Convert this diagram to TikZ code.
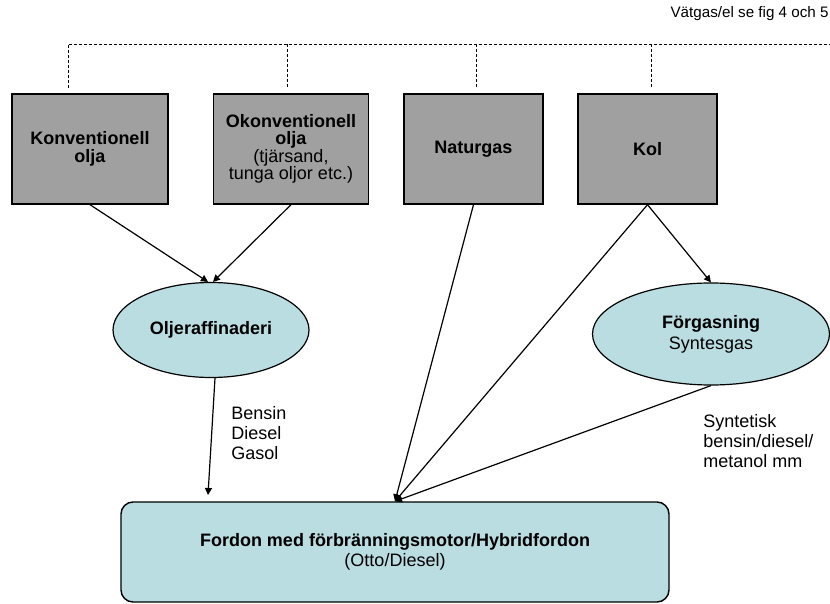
\documentclass[tikz,border=0pt]{standalone}
\usepackage{fontspec}
\setmainfont{Liberation Sans}
\usetikzlibrary{shapes.geometric,arrows.meta}
\definecolor{boxgray}{RGB}{160,160,160}
\definecolor{paleblue}{RGB}{186,221,225}
\tikzset{
  source/.style={draw, line width=0.7pt, fill=boxgray, minimum height=55pt, inner sep=1pt, align=center, font=\fontsize{9}{8.75}\selectfont},
  process/.style={ellipse, draw, line width=0.6pt, fill=paleblue, inner sep=0pt, align=center, font=\fontsize{9}{10.5}\selectfont},
  flow/.style={-{Triangle[length=3.5pt,width=3.5pt]}, line width=0.6pt},
  plain/.style={line width=0.6pt},
  lbl/.style={align=left, inner sep=0pt, font=\fontsize{9}{10}\selectfont},
  feed/.style={dash pattern=on 1.5pt off 1pt, line width=0.4pt}
}

\begin{document}
\begin{tikzpicture}[x=0.5pt, y=-0.5pt]
\useasboundingbox (0,0) rectangle (830,604);

\node[anchor=east, inner sep=0pt, font=\fontsize{7.6}{9}\selectfont] (ref) at (829,14) {Vätgas/el se fig 4 och 5};

\draw[feed] (68,88) |- (830,44);
\foreach \x in {287,476,651}
  {\draw[feed] (\x,44) -- (\x,88);}

\node[source, minimum width=78pt] (konv) at (90,149) {\textbf{Konventionell}\\\textbf{olja}};
\node[source, minimum width=77.5pt] (okonv) at (291,149) {\textbf{Okonventionell}\\\textbf{olja}\\(tjärsand,\\tunga oljor etc.)};
\node[source, minimum width=69.5pt] (natur) at (473.5,149) {\textbf{Naturgas}};
\node[source, minimum width=69.5pt] (kol) at (647.5,149) {\textbf{Kol}};

\node[process, minimum width=98pt, minimum height=47.5pt] (raff) at (211,330) {\textbf{Oljeraffinaderi}};
\node[process, minimum width=118.5pt, minimum height=51pt] (forg) at (711,334) {\textbf{Förgasning}\\Syntesgas};

\node[draw, line width=0.7pt, rounded corners=6pt, fill=paleblue, minimum width=274pt, minimum height=50pt, align=center, font=\fontsize{9}{10}\selectfont] (fordon) at (395,552) {\textbf{Fordon med förbränningsmotor/Hybridfordon}\\(Otto/Diesel)};

\coordinate (gasend) at (208,495);

\draw[flow] (konv.south) -- ([xshift=-1.5pt]raff.north);
\draw[flow] (okonv.south) -- ([xshift=1pt]raff.north);
\draw[flow] ([xshift=2pt]raff.south) -- (gasend);
\draw[flow] (natur.south) -- (fordon.north);
\draw[flow] (kol.south) -- (fordon.north);
\draw[flow] (kol.south) -- (forg.north);
\draw[flow] (forg.south) -- (fordon.north);

\node[lbl, anchor=west] (oilprod) at (231,433) {Bensin\\Diesel\\Gasol};
\node[lbl, anchor=west] (synprod) at (703,441) {Syntetisk\\bensin/diesel/\\metanol mm};
\end{tikzpicture}
\end{document}
